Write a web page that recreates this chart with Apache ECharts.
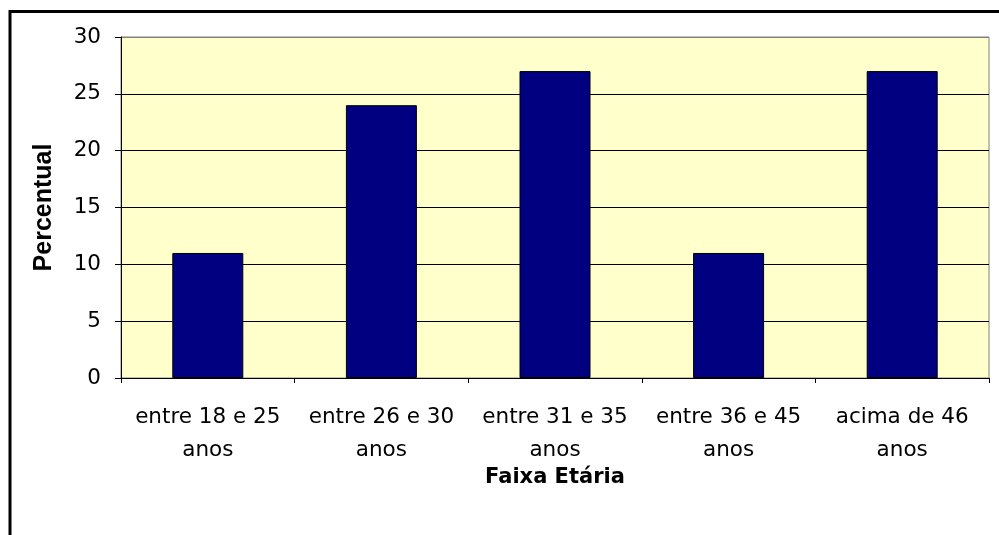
<!DOCTYPE html>
<html><head><meta charset="utf-8">
<script src="https://cdn.jsdelivr.net/npm/echarts@6/dist/echarts.min.js"></script>
<style>html,body{margin:0;padding:0;background:#fff}#c{width:999px;height:535px}</style>
</head><body><div id="c"></div>
<script>
var categories = ['entre 18 e 25\nanos','entre 26 e 30\nanos','entre 31 e 35\nanos','entre 36 e 45\nanos','acima de 46\nanos'];
var values = [11, 24, 27, 11, 27];
var yTicks = {min: 0, max: 30, interval: 5};
var chart = echarts.init(document.getElementById('c'), null, {renderer: 'canvas'});
var F = '"DejaVu Sans", sans-serif';
chart.setOption({
  animation: false,
  backgroundColor: '#ffffff',
  graphic: [{type: 'rect', shape: {x: 10, y: 11.5, width: 1100, height: 700}, style: {fill: 'none', stroke: '#000', lineWidth: 3}, z: 100}],
  grid: {left: 121, top: 37, right: 10, bottom: 157, show: true, backgroundColor: '#FFFFCC', borderColor: '#808080', borderWidth: 1},
  xAxis: {
    type: 'category', data: categories,
    axisLine: {lineStyle: {color: '#000', width: 1}},
    axisTick: {show: true, length: 5, lineStyle: {color: '#000'}, alignWithLabel: false},
    axisLabel: {color: '#000', fontFamily: F, fontSize: 21.5, lineHeight: 33, margin: 23, interval: 0},
    name: 'Faixa Etária', nameLocation: 'middle', nameGap: 89, nameMoveOverlap: false,
    nameTextStyle: {color: '#000', fontFamily: F, fontSize: 21, fontWeight: 'bold'}
  },
  yAxis: {
    type: 'value', min: yTicks.min, max: yTicks.max, interval: yTicks.interval,
    axisLine: {show: true, lineStyle: {color: '#000', width: 1}},
    axisTick: {show: true, length: 6, lineStyle: {color: '#000'}},
    splitLine: {show: true, lineStyle: {color: ['#000','#000','#000','#000','#000','#000','#808080'], width: 1}},
    axisLabel: {color: '#000', fontFamily: F, fontSize: 21.5, margin: 20},
    name: 'Percentual', nameLocation: 'middle', nameGap: 64, nameRotate: 90, nameMoveOverlap: false,
    nameTextStyle: {color: '#000', fontFamily: '"Liberation Sans", Arial, sans-serif', fontSize: 25, fontWeight: 'bold'}
  },
  series: [{
    type: 'bar', data: values, barWidth: 71,
    itemStyle: {color: '#000080', borderColor: '#000', borderWidth: 1}
  }]
});
</script></body></html>
